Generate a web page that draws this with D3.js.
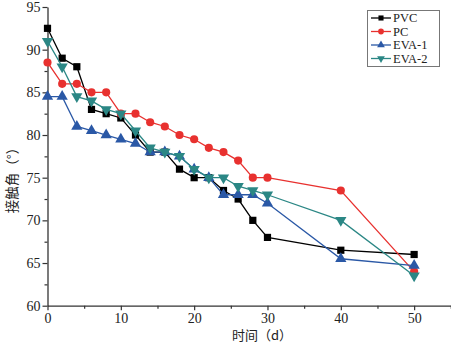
<!DOCTYPE html>
<html>
<head>
<meta charset="utf-8">
<script src="https://cdn.jsdelivr.net/npm/d3@7/dist/d3.min.js"></script>
<style>
  html, body { margin: 0; padding: 0; background: #fff; }
  svg { display: block; }
</style>
</head>
<body>
<script>
// Contact angle over time for four materials
const days = [0, 2, 4, 6, 8, 10, 12, 14, 16, 18, 20, 22, 24, 26, 28, 30, 40, 50];
const pvc  = [92.5, 89, 88, 83, 82.5, 82, 80, 78, 78, 76, 75, 75, 73.5, 72.5, 70, 68, 66.5, 66];
const pc   = [88.5, 86, 86, 85, 85, 82.5, 82.5, 81.5, 81, 80, 79.5, 78.5, 78, 77, 75, 75, 73.5, 64];
const eva1 = [84.5, 84.5, 81, 80.5, 80, 79.5, 79, 78, 78, 77.5, 76, 75, 73, 73, 73, 72, 65.5, 64.7];
const eva2 = [91, 88, 84.5, 84, 83, 82.5, 80.5, 78.5, 78, 77.5, 76, 75, 75, 74, 73.5, 73, 70, 63.5];

const seriesNames = ["PVC", "PC", "EVA-1", "EVA-2"];
const seriesValues = [pvc, pc, eva1, eva2];
const seriesColors = ["#000000", "#e8312f", "#2a58a6", "#2b8785"];
const seriesSymbols = [d3.symbolSquare, d3.symbolCircle, d3.symbolTriangle, "down"];

const xTicks = [0, 10, 20, 30, 40, 50];
const yTicks = [60, 65, 70, 75, 80, 85, 90, 95];
const xLabel = "时间（d）";
const yLabel = "接触角（°）";

const W = 451, H = 347;
const svg = d3.select("body").append("svg").attr("width", W).attr("height", H);

const x = d3.scaleLinear().domain([0, 55]).range([47.5, 450.8]);
const y = d3.scaleLinear().domain([60, 95]).range([305.7, 7]);

const axisColor = "#333";
const tickFont = "'Liberation Serif', 'Times New Roman', serif";

// x axis: minor ticks, then labelled major ticks with the axis line
const gx = svg.append("g").attr("transform", `translate(0,${y(60)})`);
gx.call(d3.axisBottom(x).tickValues(d3.range(5, 60, 10)).tickSize(3).tickFormat(""));
gx.call(g => g.select(".domain").remove());
const gx2 = svg.append("g").attr("transform", `translate(0,${y(60)})`)
  .call(d3.axisBottom(x).tickValues(xTicks).tickSize(4.5).tickSizeOuter(0).tickPadding(3).tickFormat(d3.format("d")));
[gx, gx2].forEach(g => {
  g.selectAll("line").attr("stroke", axisColor).attr("stroke-width", 1.2);
  g.selectAll("path").attr("stroke", axisColor).attr("stroke-width", 1.3);
  g.selectAll("text").attr("fill", "#222").style("font-family", tickFont).style("font-size", "14px");
});

// y axis: minor ticks, then labelled major ticks with the axis line
const gy = svg.append("g").attr("transform", `translate(${x(0)},0)`);
gy.call(d3.axisLeft(y).tickValues(d3.range(62.5, 95, 5)).tickSize(3).tickFormat(""));
gy.call(g => g.select(".domain").remove());
const gy2 = svg.append("g").attr("transform", `translate(${x(0)},0)`)
  .call(d3.axisLeft(y).tickValues(yTicks).tickSize(5).tickSizeOuter(0).tickPadding(2).tickFormat(d3.format("d")));
[gy, gy2].forEach(g => {
  g.selectAll("line").attr("stroke", axisColor).attr("stroke-width", 1.2);
  g.selectAll("path").attr("stroke", axisColor).attr("stroke-width", 1.3);
  g.selectAll("text").attr("fill", "#222").style("font-family", tickFont).style("font-size", "14px");
});

// axis titles
svg.append("text")
  .attr("x", 262).attr("y", 340)
  .attr("text-anchor", "middle")
  .style("font-family", "'Noto Sans CJK SC', sans-serif")
  .style("font-size", "13px")
  .attr("fill", "#222")
  .text(xLabel);

svg.append("text")
  .attr("transform", "translate(17,177) rotate(-90)")
  .attr("text-anchor", "middle")
  .style("font-family", "'Noto Sans CJK SC', sans-serif")
  .style("font-size", "13.5px")
  .attr("fill", "#222")
  .text(yLabel);

function symbolPath(sym, size) {
  const type = sym === "down" ? d3.symbolTriangle : sym;
  return d3.symbol().type(type).size(size)();
}
const symbolSizes = [52, 52, 55, 55];

const line = d3.line().x((d, i) => x(days[i])).y(d => y(d));

seriesValues.forEach((vals, s) => {
  const g = svg.append("g");
  g.append("path")
    .datum(vals)
    .attr("fill", "none")
    .attr("stroke", seriesColors[s])
    .attr("stroke-width", 1.3)
    .attr("d", line);
  g.selectAll("path.mk")
    .data(vals)
    .join("path")
    .attr("class", "mk")
    .attr("d", symbolPath(seriesSymbols[s], symbolSizes[s]))
    .attr("transform", (d, i) => `translate(${x(days[i])},${y(d)})` + (seriesSymbols[s] === "down" ? " rotate(180)" : ""))
    .attr("fill", seriesColors[s]);
});

// legend
const lg = svg.append("g");
lg.append("rect")
  .attr("x", 367.5).attr("y", 10.5).attr("width", 72).attr("height", 56)
  .attr("fill", "#fff").attr("stroke", "#777").attr("stroke-width", 1);
seriesNames.forEach((name, s) => {
  const cy = 18 + s * 13.5;
  lg.append("line")
    .attr("x1", 371).attr("x2", 391).attr("y1", cy).attr("y2", cy)
    .attr("stroke", seriesColors[s]).attr("stroke-width", 1.3);
  lg.append("path")
    .attr("d", symbolPath(seriesSymbols[s], 26))
    .attr("transform", `translate(381,${cy})` + (seriesSymbols[s] === "down" ? " rotate(180)" : ""))
    .attr("fill", seriesColors[s]);
  lg.append("text")
    .attr("x", 393).attr("y", cy + 4)
    .style("font-family", tickFont)
    .style("font-size", "12.5px")
    .attr("fill", "#222")
    .text(name);
});
</script>
</body>
</html>
